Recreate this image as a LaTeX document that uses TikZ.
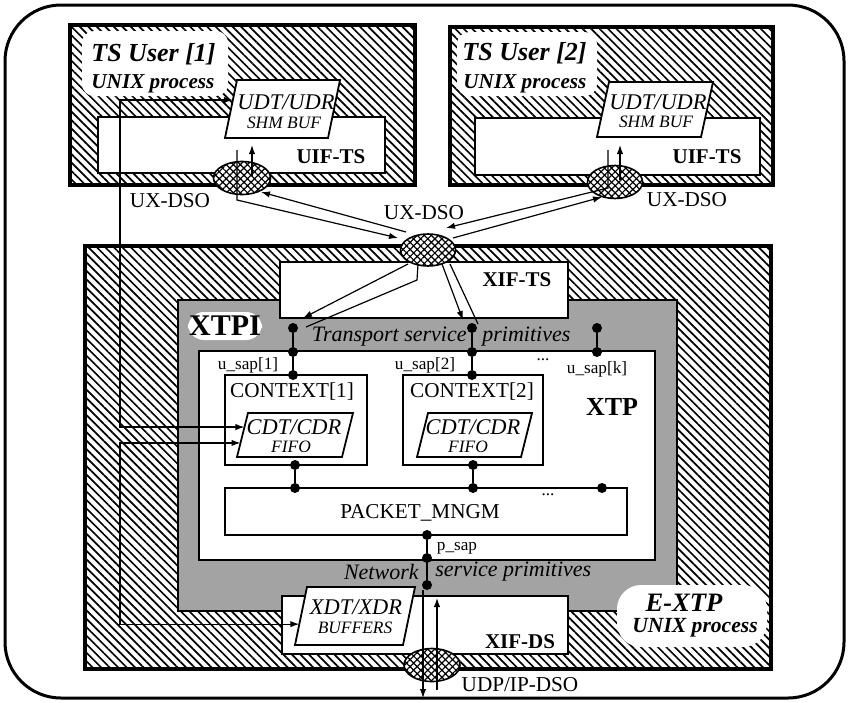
\documentclass[tikz,border=0pt]{standalone}
\usepackage{fontspec}
\setmainfont{Liberation Serif}
\usetikzlibrary{patterns.meta,shapes.geometric,fit,calc,arrows.meta}

% slanted buffer box: name, left x, top y, right x, bottom y, slant offset
\newcommand\slantbox[6]{%
  \coordinate (#1-tl) at (#2+#6,#3);
  \coordinate (#1-tr) at (#4,#3);
  \coordinate (#1-br) at (#4-#6,#5);
  \coordinate (#1-bl) at (#2,#5);
  \draw[parafill] (#1-bl) -- (#1-tl) -- (#1-tr) -- (#1-br) -- cycle;
  \coordinate (#1) at ($(#1-tl)!0.5!(#1-br)$);
}

\begin{document}
\begin{tikzpicture}[x=0.5pt,y=-0.5pt,
  >={Latex[length=4.5pt,width=3.2pt]},
  hatchbox/.style={draw, line width=2pt, inner sep=0pt,
    pattern={Lines[angle=-45,distance=3pt,line width=0.85pt]}},
  plainbox/.style={draw, line width=0.8pt, fill=white, inner sep=0pt},
  graybox/.style={draw, line width=0.6pt, fill=black!36, inner sep=0pt},
  parafill/.style={draw, line width=0.9pt, fill=white, line join=miter},
  dso/.style={ellipse, draw, line width=0.8pt, inner sep=0pt,
    preaction={fill=white},
    pattern={Hatch[angle=45,distance=2.5pt,line width=0.6pt]}},
  dot/.style={circle, fill=black, inner sep=0pt, minimum size=5pt},
  conn/.style={line width=0.6pt},
  txt/.style={inner sep=0pt},
  ttl/.style={txt, font=\fontsize{13}{15}\selectfont\bfseries\itshape},
  prc/.style={txt, font=\fontsize{10.6}{12}\selectfont\bfseries\itshape},
  bufbig/.style={txt, font=\fontsize{11.2}{13}\selectfont\itshape},
  bufsmall/.style={txt, font=\fontsize{8.7}{10}\selectfont\itshape},
  ifc/.style={txt, font=\fontsize{10.5}{12}\selectfont\bfseries},
  rmtxt/.style={txt, font=\fontsize{10.6}{12}\selectfont},
  sap/.style={txt, font=\fontsize{8.6}{10}\selectfont},
  prim/.style={txt, font=\fontsize{11}{13}\selectfont\itshape},
]
\useasboundingbox (0,0) rectangle (850,702);

% outer frame
\node[fit={(5,5)(844,698)}, draw, rounded corners=28pt, line width=1.5pt, inner sep=0pt] (frame) {};

% ---------- TS user processes ----------
\node[hatchbox, fit={(70,25)(415,185)}] (user1) {};
\fill[white, rounded corners=6pt] (82,31) rectangle (228,96);
\node[plainbox, fit={(98,117)(385,173)}] (uif1) {};
\slantbox{udt1}{225}{80}{340}{138}{12}
\node[ttl, anchor=west] (t1) at (91,54) {TS User [1]};
\node[prc, anchor=west] (p1) at (91,84) {UNIX process};
\node[bufbig] at (286,102) {UDT/UDR};
\node[bufsmall] at (284,123) {SHM BUF};
\node[ifc] at (331,157) {UIF-TS};

\node[hatchbox, fit={(450,27)(773,185)}] (user2) {};
\fill[white, rounded corners=6pt] (457,32) rectangle (597,96);
\node[plainbox, fit={(475,118)(760,175)}] (uif2) {};
\slantbox{udt2}{597}{82}{713}{137}{12}
\node[ttl, anchor=west] (t2) at (462,53) {TS User [2]};
\node[prc, anchor=west] (p2) at (463,84) {UNIX process};
\node[bufbig] at (658,102) {UDT/UDR};
\node[bufsmall] at (656,122) {SHM BUF};
\node[ifc] at (707,157) {UIF-TS};

% ---------- E-XTP process ----------
\node[hatchbox, fit={(85,246)(771,669)}] (extp) {};
\node[graybox, fit={(178,300)(677,611)}] (xtpi) {};
\node[plainbox, fit={(280,262)(568,318)}] (xifts) {};
\node[plainbox, fit={(282,596)(568,654)}] (xifds) {};
\node[plainbox, fit={(199,351)(655,560)}] (xtp) {};
\node[plainbox, fit={(225,375)(367,465)}] (ctx1) {};
\node[plainbox, fit={(403,375)(543,465)}] (ctx2) {};
\node[plainbox, fit={(225,488)(627,535)}] (pkt) {};
\slantbox{cdt1}{237}{413}{353}{457}{11}
\slantbox{cdt2}{417}{413}{532}{457}{11}
\slantbox{xdt}{295}{587}{415}{645}{12}
\fill[white, rounded corners=12pt] (617,585) rectangle (767,647);
\fill[white, rounded corners=8pt] (188,312) rectangle (262,340);

% DSO ellipses
\node[dso, minimum width=28.5pt, minimum height=16.5pt] (dso1) at (242,178) {};
\node[dso, minimum width=27.5pt, minimum height=16.5pt] (dso2) at (615,182) {};
\node[dso, minimum width=27.5pt, minimum height=16pt] (dsoc) at (428,250) {};
\node[dso, minimum width=28pt, minimum height=16.5pt] (dsob) at (432,665) {};

% ---------- texts in E-XTP ----------
\node[ifc] at (517,280) {XIF-TS};
\node[ifc] at (520,642) {XIF-DS};
\node[txt, font=\fontsize{15}{17}\selectfont\bfseries] at (225,326) {XTPI};
\node[txt, font=\fontsize{13}{15}\selectfont\bfseries] at (612,407) {XTP};
\node[prim, anchor=east] at (467,337) {Transport service};
\node[prim, anchor=west] at (482,337) {primitives};
\node[prim, anchor=east] at (419,572) {Network};
\node[prim, anchor=west] at (435,572) {service primitives};
\node[rmtxt] at (292,392) {CONTEXT[1]};
\node[rmtxt] at (472,392) {CONTEXT[2]};
\node[bufbig] at (294,427) {CDT/CDR};
\node[bufsmall] at (291,447) {FIFO};
\node[bufbig] at (473,427) {CDT/CDR};
\node[bufsmall] at (468,447) {FIFO};
\node[rmtxt] at (420,513) {PACKET\_MNGM};
\node[bufbig] at (356,607) {XDT/XDR};
\node[bufsmall] at (355,628) {BUFFERS};
\node[txt, font=\fontsize{13.3}{15}\selectfont\bfseries\itshape] at (684,603) {E-XTP};
\node[txt, font=\fontsize{10.8}{12}\selectfont\bfseries\itshape] at (695,628) {UNIX process};
\node[sap] at (248,365) {u\_sap[1]};
\node[sap] at (425,365) {u\_sap[2]};
\node[sap] at (597,369) {u\_sap[k]};
\node[sap] at (543,360) {...};
\node[sap] at (548,495) {...};
\node[sap] at (457,548) {p\_sap};

% DSO labels
\node[rmtxt] at (170,201) {UX-DSO};
\node[rmtxt] at (687,200) {UX-DSO};
\node[rmtxt] at (424,213) {UX-DSO};
\node[rmtxt] at (520,685) {UDP/IP-DSO};

% ---------- service access points ----------
\node[dot] (s1a) at (293,328) {};
\node[dot] (s1b) at (293,352) {};
\node[dot] (s1c) at (293,375) {};
\node[dot] (s2a) at (472,328) {};
\node[dot] (s2b) at (472,352) {};
\node[dot] (s2c) at (472,375) {};
\node[dot] (ska) at (597,328) {};
\node[dot] (skb) at (597,352) {};
\node[dot] (c1d) at (295,465) {};
\node[dot] (c2d) at (473,465) {};
\node[dot] (m1) at (295,488) {};
\node[dot] (m2) at (473,488) {};
\node[dot] (mk) at (602,488) {};
\node[dot] (ps1) at (427,535) {};
\node[dot] (ps2) at (427,558) {};
\node[dot] (ps3) at (427,585) {};
\draw[conn] (s1a) -- (s1b) -- (s1c);
\draw[conn] (s2a) -- (s2b) -- (s2c);
\draw[conn] (ska) -- (skb);
\draw[conn] (c1d) -- (m1);
\draw[conn] (c2d) -- (m2);
\draw[conn] (ps1) -- (ps2) -- (ps3);

% ---------- data paths ----------
\coordinate (colA) at (120,0);
\coordinate (ua) at ($(udt1-tl)!0.345!(udt1-bl)$);
\coordinate (ca) at ($(cdt1-tl)!0.32!(cdt1-bl)$);
\coordinate (cb) at ($(cdt1-tl)!0.68!(cdt1-bl)$);
\coordinate (xa) at ($(xdt-tl)!0.64!(xdt-bl)$);
\draw[conn,<->] (ua) -- (ua -| colA) -- (ca -| colA) -- (ca);
\draw[conn,<->] (cb) -- (cb -| colA) -- (xa -| colA) -- (xa);

% user 1 <-> central DSO
\coordinate (u1a) at (237,150);
\coordinate (u1b) at (237,200);
\coordinate (c1i) at (398,238);
\coordinate (c1o) at (406,232);
\coordinate (u1i) at (261,192);
\draw[conn,->] (u1a) -- (u1b) -- (c1i);
\draw[conn,->] (c1o) -- (u1i);
\draw[conn,->] (252,176) -- (252,145);

% user 2 <-> central DSO
\coordinate (u2a) at (608,150);
\coordinate (u2b) at (608,188);
\coordinate (c2i) at (446,228);
\coordinate (c2o) at (453,238);
\coordinate (u2i) at (602,197);
\draw[conn,->] (u2a) -- (u2b) -- (c2i);
\draw[conn,->] (c2o) -- (u2i);
\draw[conn,->] (620,180) -- (620,145);

% central DSO -> transport service access points
\coordinate (d1) at (408,264);
\coordinate (d2) at (418,264);
\coordinate (d3) at (442,264);
\coordinate (d4) at (450,264);
\draw[conn,->] (d1) -- (303,318);
\draw[conn] (d2) -- (417,280) -- (306,327);
\draw[conn,->] (d3) -- (463,320);
\draw[conn] (d4) -- (478,324);

% network side
\draw[conn,->] (423,590) -- (423,698);
\draw[conn,->] (437,690) -- (437,598);
\end{tikzpicture}
\end{document}
